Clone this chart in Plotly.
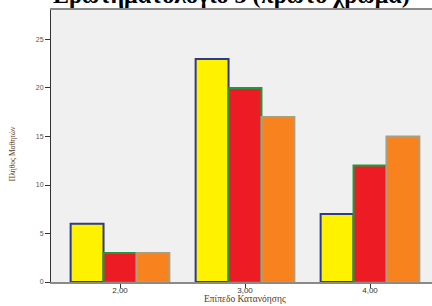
import plotly.graph_objects as go

categories = ["2,00", "3,00", "4,00"]
series_names = ["Κίτρινο", "Κόκκινο", "Πορτοκαλί"]
yellow_vals = [6, 23, 7]
red_vals = [3, 20, 12]
orange_vals = [3, 17, 15]
y_ticks = [0, 5, 10, 15, 20, 25]

W, H = 432, 306
L, R, T, B = 51, 0, 10, 24

fig = go.Figure()
styles = [
    (yellow_vals, "#FFF200", "#2E3A8C"),
    (red_vals, "#ED1C24", "#1E9A3C"),
    (orange_vals, "#F7821E", "#A89F80"),
]
for name, (vals, fill, edge) in zip(series_names, styles):
    fig.add_trace(go.Bar(
        x=categories, y=vals, name=name,
        marker=dict(color=fill, line=dict(color=edge, width=2)),
        showlegend=False,
    ))

fig.update_layout(
    width=W, height=H,
    margin=dict(l=L, r=R, t=T, b=B, pad=0),
    paper_bgcolor="white",
    plot_bgcolor="#F0F0F0",
    barmode="group",
    bargap=0.21,
    bargroupgap=0,
    xaxis=dict(
        type="category",
        range=[-0.552, 2.496],
        showline=True, linecolor="#8A8A8A", linewidth=1.5, mirror=True,
        ticks="outside", ticklen=4, tickcolor="#333",
        ticklabelstandoff=-4,
        tickfont=dict(family="Liberation Sans, Arial", size=8, color="#333"),
        showgrid=False, zeroline=False, fixedrange=True,
    ),
    yaxis=dict(
        range=[0, 28.04],
        tickvals=y_ticks,
        showline=True, linecolor="#333", linewidth=1,
        ticks="outside", ticklen=5, tickcolor="#333",
        tickfont=dict(family="Liberation Sans, Arial", size=7, color="#555"),
        showgrid=False, zeroline=False, fixedrange=True,
    ),
    annotations=[
        dict(text="<b>Ερωτηματολόγιο 3 (πρώτο χρώμα)</b>", xref="paper", yref="paper",
             x=0.475, y=1, yshift=0, xanchor="center", yanchor="bottom", showarrow=False,
             font=dict(family="Liberation Serif, Times New Roman", size=24, color="black")),
        dict(text="Επίπεδο Κατανόησης", xref="paper", yref="paper",
             x=0.508, y=0, yshift=-10, xanchor="center", yanchor="top", showarrow=False,
             font=dict(family="Liberation Serif, Times New Roman", size=9.5, color="#5A3A1A")),
        dict(text="Πλήθος Μαθητών", xref="paper", yref="paper",
             x=0, xshift=-39, y=0.47, xanchor="center", yanchor="middle", textangle=-90,
             showarrow=False,
             font=dict(family="Liberation Serif, Times New Roman", size=7.5, color="#5A3A1A")),
    ],
)

fig.write_html("out.html", config={"displayModeBar": False},
               post_script="document.body.style.margin='0';")
